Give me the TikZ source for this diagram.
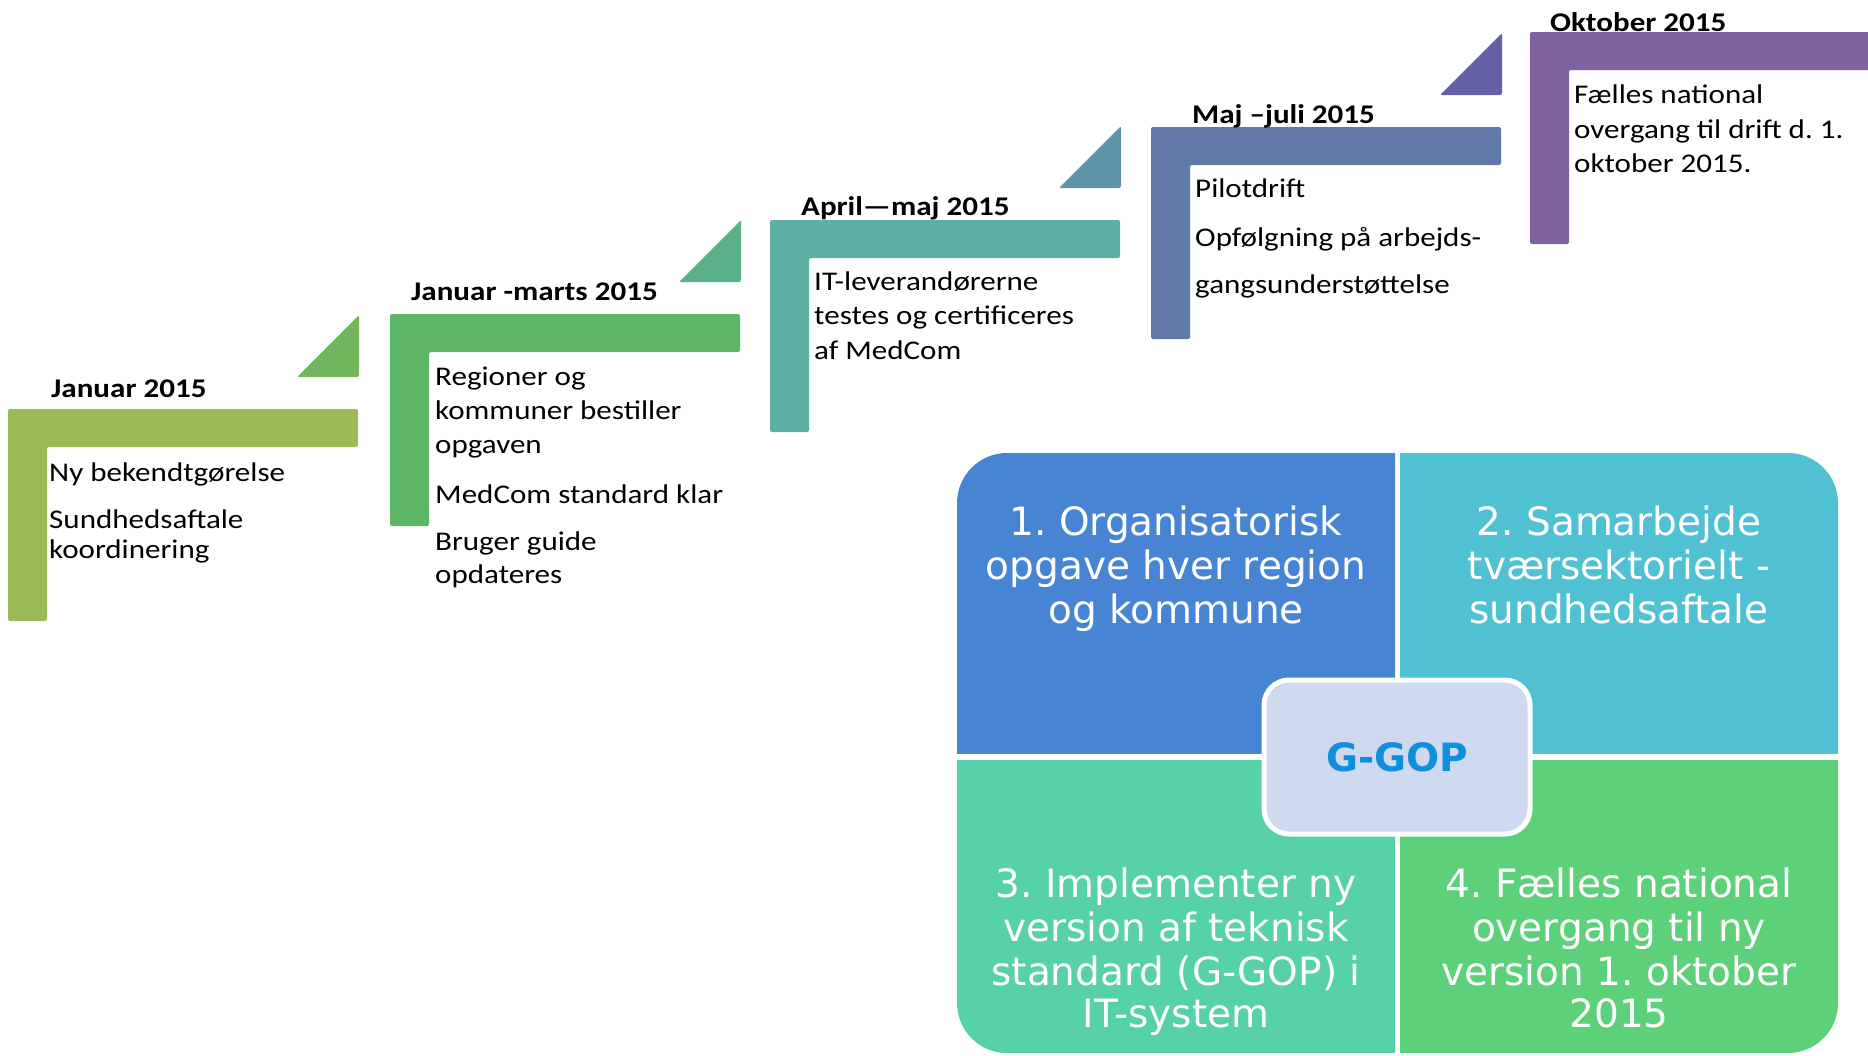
\documentclass[tikz,border=0pt]{standalone}
\usepackage{fontspec}
\setmainfont[FakeStretch=1.15]{Carlito}
\newfontfamily\quadfont{DejaVu Sans}
\frenchspacing

% timeline colours
\definecolor{barA}{RGB}{155,187,89}
\definecolor{barB}{RGB}{93,182,101}
\definecolor{barC}{RGB}{94,175,166}
\definecolor{barD}{RGB}{96,121,168}
\definecolor{barE}{RGB}{128,98,160}
\definecolor{triA}{RGB}{114,183,92}
\definecolor{triB}{RGB}{90,178,138}
\definecolor{triC}{RGB}{94,149,170}
\definecolor{triD}{RGB}{100,96,164}
% matrix colours
\definecolor{quadA}{RGB}{72,132,212}
\definecolor{quadB}{RGB}{79,193,210}
\definecolor{quadC}{RGB}{86,209,170}
\definecolor{quadD}{RGB}{93,208,122}
\definecolor{hubfill}{RGB}{207,218,240}
\definecolor{hubtext}{RGB}{14,144,222}

\begin{document}
\begin{tikzpicture}[x=1pt,y=-1pt,
    datelbl/.style={anchor=base west, inner sep=0pt, font=\bfseries\fontsize{27}{32}\selectfont},
    steptxt/.style={anchor=base west, inner sep=0pt, font=\fontsize{27}{32}\selectfont},
    quadtxt/.style={anchor=base, inner sep=0pt, text=white, font=\quadfont\fontsize{39}{44}\selectfont},
    hub/.style={draw=white, line width=5pt, fill=hubfill, rounded corners=25pt,
        minimum width=266pt, minimum height=154pt, text=hubtext,
        font=\quadfont\bfseries\fontsize{39}{44}\selectfont}]
    \useasboundingbox (0,0) rectangle (1868,1055);

    % Steps
    \foreach \bx/\by/\bc in {8/409/barA, 390/314/barB, 770/220/barC, 1151/127/barD, 1530/32/barE}
        \fill[\bc, rounded corners=2pt] (\bx,\by) -- ++(350,0) -- ++(0,38) -- ++(-311,0) -- ++(0,174) -- ++(-39,0) -- cycle;

    % Arrow heads
    \foreach \bx/\by/\tc in {8/409/triA, 390/314/triB, 770/220/triC, 1151/127/triD}
        \fill[\tc, rounded corners=2pt] ({\bx+351},{\by-32}) -- ++(0,-62) -- ++(-62,62) -- cycle;

    % Dates
    \node[datelbl] (d1) at (51,397) {Januar 2015};
    \node[datelbl] (d2) at (411,300) {Januar -marts 2015};
    \node[datelbl] (d3) at (801,215) {April—maj 2015};
    \node[datelbl] (d4) at (1192,123) {Maj –juli 2015};
    \node[datelbl] (d5) at (1550,31) {Oktober 2015};

    % Step texts
    \node[steptxt] (t11) at (49,481) {Ny bekendtgørelse};
    \node[steptxt] (t12) at (49,528) {Sundhedsaftale};
    \node[steptxt] (t13) at (49,558) {koordinering};

    \node[steptxt] (t21) at (435,385) {Regioner og};
    \node[steptxt] (t22) at (435,419) {kommuner bestiller};
    \node[steptxt] (t23) at (435,453) {opgaven};
    \node[steptxt] (t24) at (435,503) {MedCom standard klar};
    \node[steptxt] (t25) at (435,550) {Bruger guide};
    \node[steptxt] (t26) at (435,583) {opdateres};

    \node[steptxt] (t31) at (814,290) {IT-leverandørerne};
    \node[steptxt] (t32) at (814,324) {testes og certificeres};
    \node[steptxt] (t33) at (814,359) {af MedCom};

    \node[steptxt] (t41) at (1195,197) {Pilotdrift};
    \node[steptxt] (t42) at (1195,246) {Opfølgning på arbejds-};
    \node[steptxt] (t43) at (1195,293) {gangsunderstøttelse};

    \node[steptxt] (t51) at (1574,103) {Fælles national};
    \node[steptxt] (t52) at (1574,138) {overgang til drift d. 1.};
    \node[steptxt] (t53) at (1574,172) {oktober 2015.};

    % Matrix
    \foreach \qx/\qy/\qw/\qh/\qc in {957/453/438/300/quadA, 1400/453/438/300/quadB, 957/760/438/293/quadC, 1400/760/438/293/quadD}{
        \begin{scope}
            \clip (\qx,\qy) rectangle ++(\qw,\qh);
            \fill[\qc, rounded corners=50pt] (957,453) rectangle (1838,1053);
        \end{scope}
    }

    \node[quadtxt] (q11) at (1176,535) {1. Organisatorisk};
    \node[quadtxt] (q12) at (1176,579) {opgave hver region};
    \node[quadtxt] (q13) at (1176,623) {og kommune};

    \node[quadtxt] (q21) at (1619,535) {2. Samarbejde};
    \node[quadtxt] (q22) at (1619,579) {tværsektorielt -};
    \node[quadtxt] (q23) at (1619,623) {sundhedsaftale};

    \node[quadtxt] (q31) at (1176,897) {3. Implementer ny};
    \node[quadtxt] (q32) at (1176,941) {version af teknisk};
    \node[quadtxt] (q33) at (1176,985) {standard (G-GOP) i};
    \node[quadtxt] (q34) at (1176,1027) {IT-system};

    \node[quadtxt] (q41) at (1619,897) {4. Fælles national};
    \node[quadtxt] (q42) at (1619,941) {overgang til ny};
    \node[quadtxt] (q43) at (1619,985) {version 1. oktober};
    \node[quadtxt] (q44) at (1619,1027) {2015};

    \node[hub] (ggop) at (1397,757) {G-GOP};
\end{tikzpicture}
\end{document}
